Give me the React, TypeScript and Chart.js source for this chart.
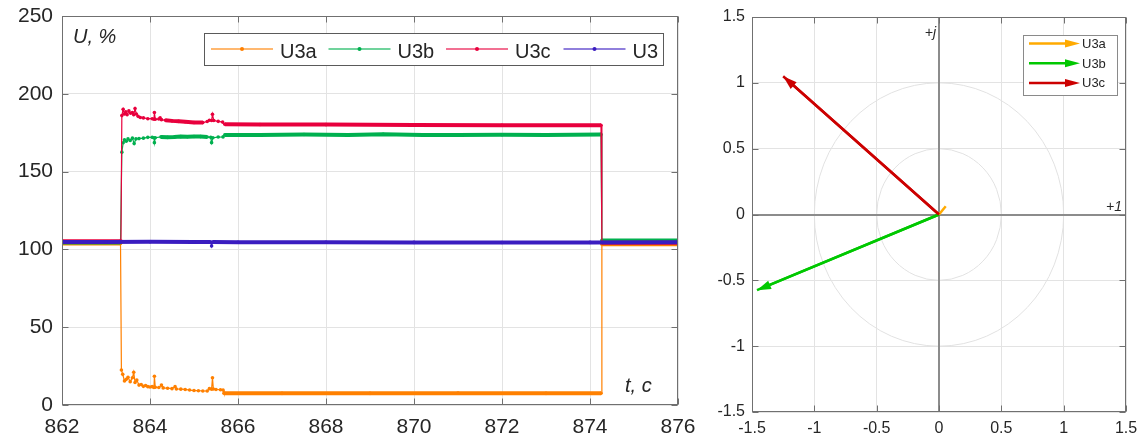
import React, { useEffect, useRef } from "react";
import { Chart, registerables } from "chart.js";

Chart.register(...registerables);

const FONT = "'Liberation Sans', Arial, Helvetica, sans-serif";
const TEXT = "#262626";
const AXIS = "#707070";
const GRID = "#e3e3e3";

// ---------- Left chart: U, % vs t, s ----------
const seriesNames = ["U3a", "U3b", "U3c", "U3"];
const seriesColors = ["#ff8000", "#00b04f", "#e8003d", "#3a1cc0"];
const drawOrder = [3, 2, 1, 0];

const tU3a = [862, 863.33, 863.35, 863.38, 863.42, 863.46, 863.5, 863.55, 863.6, 863.63, 863.66, 863.7, 863.75, 863.8, 863.85, 863.9, 863.95, 864.0, 864.05, 864.09, 864.1, 864.12, 864.2, 864.26, 864.3, 864.4, 864.5, 864.57, 864.6, 864.7, 864.8, 864.9, 865.0, 865.1, 865.2, 865.3, 865.35, 865.4, 865.42, 865.44, 865.5, 865.6, 865.66, 865.68, 867, 869, 871, 873, 874.25, 874.27, 876];
const vU3a = [103.8, 103.8, 22.5, 19.7, 15.5, 16.5, 17.8, 15.0, 17.5, 21.0, 14.5, 16.0, 12.8, 13.2, 12.0, 12.5, 11.8, 11.6, 11.8, 11.3, 18.5, 11.4, 11.2, 12.8, 11.0, 10.8, 10.5, 11.8, 10.3, 10.2, 10.0, 9.6, 9.3, 9.2, 9.0, 9.0, 10.5, 10.2, 17.5, 10.3, 10.0, 9.8, 9.6, 7.6, 7.5, 7.5, 7.6, 7.5, 7.5, 103.3, 103.3];

const tU3b = [862, 863.33, 863.36, 863.39, 863.42, 863.46, 863.5, 863.55, 863.6, 863.64, 863.68, 863.75, 863.85, 863.95, 864.05, 864.09, 864.1, 864.12, 864.25, 864.4, 864.55, 864.7, 864.85, 865.0, 865.15, 865.3, 865.38, 865.4, 865.43, 865.55, 865.66, 865.7, 866.5, 867.5, 868.5, 869.3, 870.2, 871, 872, 873, 874.25, 874.27, 876];
const vU3b = [104.5, 104.5, 162.5, 168.5, 170.5, 169.5, 171.0, 170.0, 171.5, 168.0, 171.0, 171.2, 171.5, 172.0, 172.0, 171.8, 168.6, 171.8, 172.3, 172.0, 172.2, 172.5, 172.4, 172.6, 172.5, 172.2, 172.0, 168.6, 171.8, 172.2, 172.3, 173.6, 173.6, 173.8, 173.5, 174.0, 173.6, 173.5, 173.7, 173.6, 173.9, 105.8, 105.8];

const tU3c = [862, 863.34, 863.36, 863.39, 863.42, 863.45, 863.48, 863.52, 863.56, 863.6, 863.63, 863.66, 863.69, 863.73, 863.78, 863.85, 863.95, 864.05, 864.09, 864.1, 864.12, 864.2, 864.23, 864.26, 864.35, 864.5, 864.65, 864.8, 865.0, 865.2, 865.3, 865.35, 865.4, 865.42, 865.45, 865.55, 865.65, 865.7, 866.5, 868, 870, 872, 874.25, 874.27, 876];
const vU3c = [105.3, 105.3, 186.0, 190.0, 187.0, 188.5, 186.5, 189.0, 187.5, 188.0, 186.5, 190.5, 187.0, 185.5, 184.8, 184.5, 184.0, 184.0, 183.6, 188.0, 183.6, 183.8, 184.5, 183.4, 183.0, 182.6, 182.3, 182.0, 181.6, 181.5, 182.2, 183.0, 182.8, 186.8, 182.8, 182.3, 181.8, 180.4, 180.3, 180.2, 180.0, 179.8, 179.8, 104.3, 104.3];

const tU3 = [862, 863, 864, 865, 865.38, 865.4, 865.42, 866, 868, 870, 872, 874, 876];
const vU3 = [104.8, 104.8, 104.9, 104.7, 104.7, 102.2, 104.7, 104.6, 104.6, 104.5, 104.4, 104.5, 104.6];

const seriesTimes = [tU3a, tU3b, tU3c, tU3];
const seriesValues = [vU3a, vU3b, vU3c, vU3];

const leftTicksX = [862, 864, 866, 868, 870, 872, 874, 876];
const leftTicksY = [0, 50, 100, 150, 200, 250];
const leftYLabel = "U, %";
const leftXLabel = "t, с";

// ---------- Right chart: phasor diagram ----------
const phasorNames = ["U3a", "U3b", "U3c"];
const phasorColors = ["#ffaa00", "#00c800", "#cc0000"];
const phasorRe = [0.054, -1.46, -1.25];
const phasorIm = [0.063, -0.575, 1.05];
const phasorTicks = [-1.5, -1, -0.5, 0, 0.5, 1, 1.5];
const circleRadii = [0.5, 1];
const realLabel = "+1";
const imagLabel = "+j";

function fixSize(s: any, w: number | null, h: number | null) {
  if (w !== null) s.width = w;
  if (h !== null) s.height = h;
  s.paddingLeft = 0;
  s.paddingRight = 0;
  s.paddingTop = 0;
  s.paddingBottom = 0;
}

function drawBoxAndTicks(ctx: CanvasRenderingContext2D, chart: any, xs: number[], ys: number[]) {
  const a = chart.chartArea;
  const xS = chart.scales.x;
  const yS = chart.scales.y;
  const L = Math.round(a.left) + 0.5;
  const R = Math.round(a.right) - 0.5;
  const T = Math.round(a.top) + 0.5;
  const B = Math.round(a.bottom) - 0.5;
  ctx.save();
  ctx.strokeStyle = AXIS;
  ctx.lineWidth = 1;
  ctx.strokeRect(L, T, R - L, B - T);
  ctx.beginPath();
  const len = 6;
  for (const v of xs) {
    const px = Math.round(xS.getPixelForValue(v)) + 0.5;
    ctx.moveTo(px, T); ctx.lineTo(px, T + len);
    ctx.moveTo(px, B); ctx.lineTo(px, B - len);
  }
  for (const v of ys) {
    const py = Math.round(yS.getPixelForValue(v)) + 0.5;
    ctx.moveTo(L, py); ctx.lineTo(L + len, py);
    ctx.moveTo(R, py); ctx.lineTo(R - len, py);
  }
  ctx.stroke();
  ctx.restore();
}

function arrow(ctx: CanvasRenderingContext2D, x0: number, y0: number, x1: number, y1: number, color: string, width: number, headLen: number, headHalf: number) {
  const ang = Math.atan2(y1 - y0, x1 - x0);
  const bx = x1 - headLen * Math.cos(ang);
  const by = y1 - headLen * Math.sin(ang);
  ctx.save();
  ctx.strokeStyle = color;
  ctx.fillStyle = color;
  ctx.lineWidth = width;
  ctx.beginPath();
  ctx.moveTo(x0, y0);
  ctx.lineTo(bx + 2 * Math.cos(ang), by + 2 * Math.sin(ang));
  ctx.stroke();
  ctx.beginPath();
  ctx.moveTo(x1, y1);
  ctx.lineTo(bx + headHalf * Math.sin(ang), by - headHalf * Math.cos(ang));
  ctx.lineTo(bx - headHalf * Math.sin(ang), by + headHalf * Math.cos(ang));
  ctx.closePath();
  ctx.fill();
  ctx.restore();
}

const leftPlugin = {
  id: "leftDecor",
  afterDraw(chart: any) {
    const ctx: CanvasRenderingContext2D = chart.ctx;
    drawBoxAndTicks(ctx, chart, leftTicksX, leftTicksY);
    ctx.save();
    ctx.fillStyle = TEXT;
    ctx.font = `italic 20px ${FONT}`;
    ctx.textBaseline = "alphabetic";
    ctx.textAlign = "left";
    ctx.fillText(leftYLabel, 73, 43);
    ctx.fillText(leftXLabel, 625, 392);
    const bx = 204.5, by = 33.5, bw = 459, bh = 32;
    ctx.fillStyle = "#ffffff";
    ctx.fillRect(bx, by, bw, bh);
    ctx.strokeStyle = "#5a5a5a";
    ctx.lineWidth = 1;
    ctx.strokeRect(bx, by, bw, bh);
    ctx.font = `20px ${FONT}`;
    seriesNames.forEach((name, i) => {
      const x0 = 211 + i * 117.5;
      const y = 49;
      ctx.strokeStyle = seriesColors[i];
      ctx.globalAlpha = 0.75;
      ctx.lineWidth = 1.5;
      ctx.beginPath();
      ctx.moveTo(x0, y);
      ctx.lineTo(x0 + 62, y);
      ctx.stroke();
      ctx.globalAlpha = 1;
      ctx.fillStyle = seriesColors[i];
      ctx.beginPath();
      ctx.arc(x0 + 31, y, 2, 0, Math.PI * 2);
      ctx.fill();
      ctx.fillStyle = TEXT;
      ctx.fillText(name, x0 + 69, 58);
    });
    ctx.restore();
  },
};

const rightPlugin = {
  id: "rightDecor",
  beforeDatasetsDraw(chart: any) {
    const ctx: CanvasRenderingContext2D = chart.ctx;
    const xS = chart.scales.x;
    const yS = chart.scales.y;
    const a = chart.chartArea;
    const cx = xS.getPixelForValue(0);
    const cy = yS.getPixelForValue(0);
    ctx.save();
    ctx.strokeStyle = "#e2e2e2";
    ctx.lineWidth = 1;
    for (const r of circleRadii) {
      const rx = xS.getPixelForValue(r) - cx;
      const ry = cy - yS.getPixelForValue(r);
      ctx.beginPath();
      ctx.ellipse(cx, cy, rx, ry, 0, 0, Math.PI * 2);
      ctx.stroke();
    }
    ctx.strokeStyle = "#8c8c8c";
    ctx.lineWidth = 2;
    ctx.beginPath();
    ctx.moveTo(Math.round(cx), a.top);
    ctx.lineTo(Math.round(cx), a.bottom);
    ctx.moveTo(a.left, Math.round(cy));
    ctx.lineTo(a.right, Math.round(cy));
    ctx.stroke();
    ctx.restore();
  },
  afterDatasetsDraw(chart: any) {
    const ctx: CanvasRenderingContext2D = chart.ctx;
    chart.data.datasets.forEach((ds: any, i: number) => {
      const meta = chart.getDatasetMeta(i);
      const p0 = meta.data[0];
      const p1 = meta.data[1];
      const len = Math.hypot(p1.x - p0.x, p1.y - p0.y);
      if (len > 25) {
        arrow(ctx, p0.x, p0.y, p1.x, p1.y, ds.borderColor, 2.5, 14, 4.5);
      }
    });
  },
  afterDraw(chart: any) {
    const ctx: CanvasRenderingContext2D = chart.ctx;
    drawBoxAndTicks(ctx, chart, phasorTicks, phasorTicks);
    const xS = chart.scales.x;
    const yS = chart.scales.y;
    const cx = xS.getPixelForValue(0);
    const cy = yS.getPixelForValue(0);
    const a = chart.chartArea;
    ctx.save();
    ctx.fillStyle = TEXT;
    ctx.font = `italic 14px ${FONT}`;
    ctx.textAlign = "right";
    ctx.fillText(imagLabel, cx - 3, a.top + 20);
    ctx.fillText(realLabel, a.right - 4, cy - 4);
    const bx = 323.5, by = 35.5, bw = 94, bh = 60;
    ctx.fillStyle = "#ffffff";
    ctx.fillRect(bx, by, bw, bh);
    ctx.strokeStyle = "#8a8a8a";
    ctx.lineWidth = 1;
    ctx.strokeRect(bx, by, bw, bh);
    ctx.font = `13px ${FONT}`;
    ctx.textAlign = "left";
    phasorNames.forEach((name, i) => {
      const y = 43.5 + i * 19.7;
      arrow(ctx, 329, y, 380, y, phasorColors[i], 2.5, 15, 4);
      ctx.fillStyle = TEXT;
      ctx.fillText(name, 382, y + 4.5);
    });
    ctx.restore();
  },
};

export default function App() {
  const leftRef = useRef<HTMLCanvasElement>(null);
  const rightRef = useRef<HTMLCanvasElement>(null);

  useEffect(() => {
    const left = new Chart(leftRef.current as HTMLCanvasElement, {
      type: "line",
      data: {
        datasets: seriesNames.map((name, i) => ({
          label: name,
          data: seriesTimes[i].map((t, k) => ({ x: t, y: seriesValues[i][k] })),
          borderColor: seriesColors[i],
          backgroundColor: seriesColors[i],
          pointBackgroundColor: seriesColors[i],
          pointBorderWidth: 0,
          pointRadius: 1.8,
          pointHoverRadius: 0,
          borderWidth: 1.2,
          tension: 0,
          order: drawOrder[i],
          segment: {
            borderWidth: (c: any) => (Math.abs(c.p1.x - c.p0.x) > 6 ? 4 : 1.2),
          },
        })),
      },
      options: {
        animation: false,
        responsive: false,
        events: [],
        layout: { padding: { top: 16, right: 22, bottom: 0, left: 0 } },
        plugins: { legend: { display: false }, tooltip: { enabled: false } },
        scales: {
          x: {
            type: "linear",
            min: 862,
            max: 876,
            afterBuildTicks: (s: any) => {
              s.ticks = leftTicksX.map((v) => ({ value: v }));
            },
            afterFit: (s: any) => fixSize(s, null, 36),
            grid: { color: GRID, drawTicks: false },
            border: { display: false },
            ticks: {
              font: { size: 21, family: FONT },
              color: TEXT,
              padding: 10,
              maxRotation: 0,
              autoSkip: false,
              callback: (v: any) => String(v),
            },
          },
          y: {
            type: "linear",
            min: 0,
            max: 250,
            afterBuildTicks: (s: any) => {
              s.ticks = leftTicksY.map((v) => ({ value: v }));
            },
            afterFit: (s: any) => fixSize(s, 62, null),
            grid: { color: GRID, drawTicks: false },
            border: { display: false },
            ticks: {
              font: { size: 21, family: FONT },
              color: TEXT,
              padding: 9,
              autoSkip: false,
              callback: (v: any) => String(v),
            },
          },
        },
      },
      plugins: [leftPlugin],
    } as any);

    const right = new Chart(rightRef.current as HTMLCanvasElement, {
      type: "scatter",
      data: {
        datasets: phasorNames.map((name, i) => ({
          label: name,
          data: [
            { x: 0, y: 0 },
            { x: phasorRe[i], y: phasorIm[i] },
          ],
          showLine: true,
          borderColor: phasorColors[i],
          backgroundColor: phasorColors[i],
          borderWidth: 2.5,
          pointRadius: 0,
          pointHoverRadius: 0,
        })),
      },
      options: {
        animation: false,
        responsive: false,
        events: [],
        layout: { padding: { top: 17, right: 17, bottom: 0, left: 0 } },
        plugins: { legend: { display: false }, tooltip: { enabled: false } },
        scales: {
          x: {
            type: "linear",
            min: -1.5,
            max: 1.5,
            afterBuildTicks: (s: any) => {
              s.ticks = phasorTicks.map((v) => ({ value: v }));
            },
            afterFit: (s: any) => fixSize(s, null, 29),
            grid: { color: GRID, drawTicks: false },
            border: { display: false },
            ticks: {
              font: { size: 16, family: FONT },
              color: TEXT,
              padding: 7,
              maxRotation: 0,
              autoSkip: false,
              callback: (v: any) => String(v),
            },
          },
          y: {
            type: "linear",
            min: -1.5,
            max: 1.5,
            afterBuildTicks: (s: any) => {
              s.ticks = phasorTicks.map((v) => ({ value: v }));
            },
            afterFit: (s: any) => fixSize(s, 52, null),
            grid: { color: GRID, drawTicks: false },
            border: { display: false },
            ticks: {
              font: { size: 16, family: FONT },
              color: TEXT,
              padding: 7,
              autoSkip: false,
              callback: (v: any) => String(v),
            },
          },
        },
      },
      plugins: [rightPlugin],
    } as any);

    return () => {
      left.destroy();
      right.destroy();
    };
  }, []);

  return (
    <div style={{ position: "absolute", left: 0, top: 0, width: 1143, height: 441, background: "#ffffff", overflow: "hidden" }}>
      <canvas
        ref={leftRef}
        width={700}
        height={441}
        style={{ position: "absolute", left: 0, top: 0, width: 700, height: 441 }}
      />
      <canvas
        ref={rightRef}
        width={443}
        height={441}
        style={{ position: "absolute", left: 700, top: 0, width: 443, height: 441 }}
      />
    </div>
  );
}
